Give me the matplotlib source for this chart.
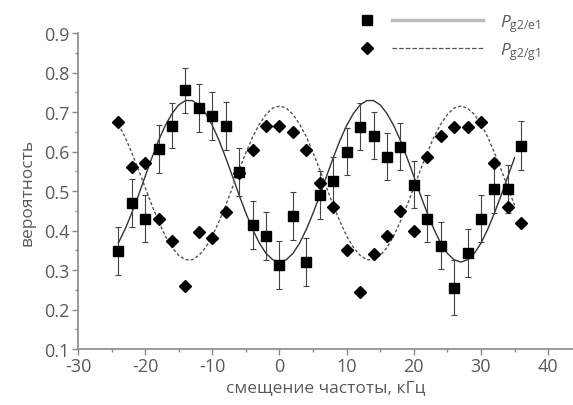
import matplotlib
matplotlib.use("Agg")
import matplotlib.pyplot as plt
from matplotlib.lines import Line2D
from matplotlib.legend_handler import HandlerBase
from matplotlib.ticker import MultipleLocator

plt.rcParams['font.family'] = ['Open Sans', 'DejaVu Sans']
plt.rcParams['mathtext.fontset'] = 'custom'
plt.rcParams['mathtext.rm'] = 'Open Sans'
plt.rcParams['mathtext.it'] = 'Open Sans:italic'
plt.rcParams['axes.unicode_minus'] = False

# measured points (detuning in kHz)
x_pts = [-24, -22, -20, -18, -16, -14, -12, -10, -8, -6, -4, -2, 0, 2, 4, 6,
         8, 10, 12, 14, 16, 18, 20, 22, 24, 26, 28, 30, 32, 34, 36]
p_e1 = [0.348, 0.470, 0.430, 0.606, 0.665, 0.755, 0.710, 0.690, 0.665, 0.548,
        0.414, 0.386, 0.313, 0.437, 0.320, 0.490, 0.525, 0.600, 0.663, 0.640,
        0.587, 0.612, 0.516, 0.430, 0.362, 0.255, 0.343, 0.430, 0.505, 0.505,
        0.615]
err_e1 = [0.060, 0.060, 0.060, 0.060, 0.057, 0.057, 0.060, 0.060, 0.060, 0.060,
          0.060, 0.060, 0.060, 0.060, 0.060, 0.060, 0.060, 0.060, 0.060, 0.060,
          0.060, 0.060, 0.060, 0.060, 0.060, 0.070, 0.060, 0.060, 0.060, 0.060,
          0.062]
p_g1 = [0.675, 0.560, 0.570, 0.430, 0.373, 0.260, 0.395, 0.382, 0.447, 0.545,
        0.605, 0.665, 0.665, 0.650, 0.605, 0.520, 0.460, 0.350, 0.245, 0.340,
        0.385, 0.450, 0.400, 0.585, 0.640, 0.663, 0.663, 0.675, 0.570, 0.460,
        0.420]

# fitted curves, every 1 kHz
x_fit = list(range(-24, 36))
fit_e1 = [0.368, 0.403, 0.444, 0.489, 0.537, 0.584, 0.628, 0.666, 0.696, 0.718,
          0.729, 0.729, 0.718, 0.696, 0.666, 0.628, 0.584, 0.537, 0.489, 0.444,
          0.403, 0.368, 0.342, 0.326, 0.320, 0.326, 0.342, 0.368, 0.403, 0.444,
          0.489, 0.537, 0.584, 0.628, 0.666, 0.696, 0.718, 0.729, 0.729, 0.718,
          0.696, 0.666, 0.628, 0.584, 0.537, 0.489, 0.444, 0.403, 0.368, 0.342,
          0.326, 0.320, 0.326, 0.342, 0.368, 0.403, 0.444, 0.489, 0.537, 0.584]
fit_g1 = [0.669, 0.637, 0.597, 0.554, 0.509, 0.464, 0.423, 0.386, 0.357, 0.337,
          0.326, 0.326, 0.337, 0.357, 0.386, 0.423, 0.464, 0.509, 0.554, 0.597,
          0.637, 0.669, 0.694, 0.710, 0.715, 0.710, 0.694, 0.669, 0.637, 0.597,
          0.554, 0.509, 0.464, 0.423, 0.386, 0.357, 0.337, 0.326, 0.326, 0.337,
          0.357, 0.386, 0.423, 0.464, 0.509, 0.554, 0.597, 0.637, 0.669, 0.694,
          0.710, 0.715, 0.710, 0.694, 0.669, 0.637, 0.597, 0.554, 0.509, 0.464]

labels = [r'$P_{\mathrm{g2/e1}}$', r'$P_{\mathrm{g2/g1}}$']

grey = '#5a5a5a'
axis_grey = '#8a8a8a'


class MarkerThenLine(HandlerBase):
    # marker on the left, line sample on the right
    def create_artists(self, legend, orig_handle, xdescent, ydescent,
                       width, height, fontsize, trans):
        mk, ln = orig_handle
        y = height / 2 - ydescent
        m = Line2D([0.07 * width - xdescent], [y], ls='none',
                   marker=mk.get_marker(), ms=mk.get_markersize(),
                   color=mk.get_color())
        l = Line2D([0.27 * width - xdescent, width - xdescent], [y, y],
                   ls=ln.get_linestyle(), lw=ln.get_linewidth(),
                   color=ln.get_color())
        m.set_transform(trans)
        l.set_transform(trans)
        return [m, l]


fig = plt.figure(figsize=(5.73, 4.06), dpi=100)
ax = fig.add_axes([78 / 573, 56 / 406, 495 / 573, 316 / 406])

ax.plot(x_fit, fit_e1, color='#333333', lw=1.0, zorder=2)
ax.plot(x_fit, fit_g1, color='#555555', lw=1.0, ls=(0, (2.2, 1.6)), zorder=2)

ax.errorbar(x_pts, p_e1, yerr=err_e1, fmt='none', ecolor='#444444',
            elinewidth=0.8, capsize=2.2, capthick=0.8, zorder=3)
ax.plot(x_pts, p_g1, ls='none', marker='D', ms=6, color='black', zorder=4)
ax.plot(x_pts, p_e1, ls='none', marker='s', ms=7.5, color='black', zorder=5)

ax.set_xlim(-30, 43.7)
ax.set_ylim(0.1, 0.9)
ax.xaxis.set_major_locator(MultipleLocator(10))
ax.xaxis.set_minor_locator(MultipleLocator(5))
ax.yaxis.set_major_locator(MultipleLocator(0.1))
ax.yaxis.set_minor_locator(MultipleLocator(0.05))

for s in ['top', 'right']:
    ax.spines[s].set_visible(False)
for s in ['left', 'bottom']:
    ax.spines[s].set_color(axis_grey)
    ax.spines[s].set_linewidth(1.2)

ax.tick_params(which='major', direction='out', length=4, width=1,
               color=axis_grey, labelcolor=grey, labelsize=13, pad=2)
ax.tick_params(which='minor', direction='out', length=2, width=1,
               color=axis_grey)

ax.set_xlabel('смещение частоты, кГц', color=grey, fontsize=12.5, labelpad=3)
ax.set_ylabel('вероятность', color=grey, fontsize=12.5, labelpad=6)

h1 = (Line2D([], [], marker='s', ms=7.5, color='black', ls='none'),
      Line2D([], [], color='#bbbbbb', lw=2.5))
h2 = (Line2D([], [], marker='D', ms=6, color='black', ls='none'),
      Line2D([], [], color='#555555', lw=0.9, ls=(0, (2, 1.5))))
leg = fig.legend([h1, h2], labels, loc='center left',
                 bbox_to_anchor=(358 / 573, 1 - 38 / 406),
                 handler_map={tuple: MarkerThenLine()},
                 frameon=False, handlelength=7.2, handletextpad=1.0,
                 labelspacing=0.35, fontsize=12.5, labelcolor=grey,
                 borderpad=0, borderaxespad=0)

fig.savefig('out.png', dpi=100)
